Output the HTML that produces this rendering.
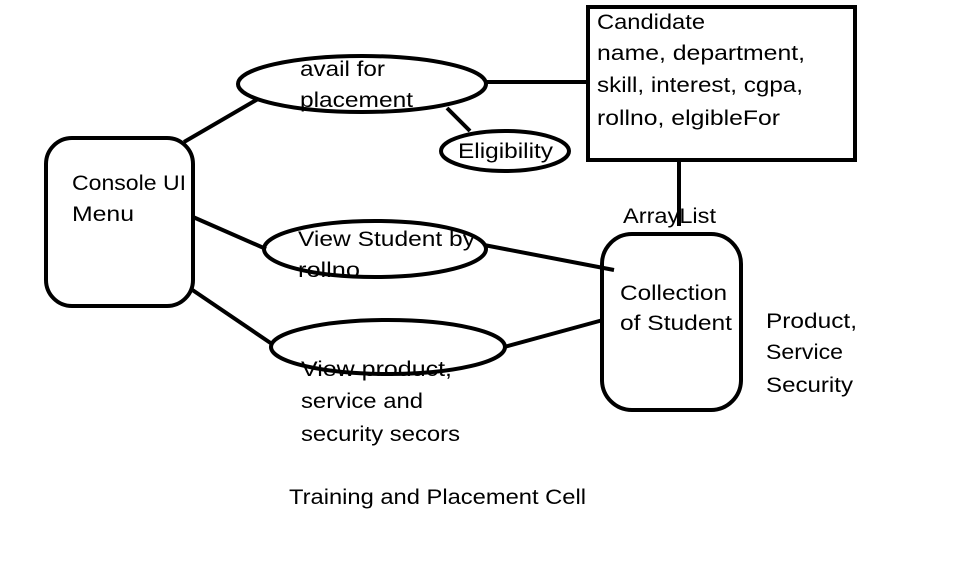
<!DOCTYPE html>
<html><head><style>
html,body{margin:0;padding:0;background:#fff;}
svg{display:block;}
text{font-family:"Liberation Sans",sans-serif;font-size:21px;fill:#000;}
</style></head><body>
<svg width="963" height="576" viewBox="0 0 963 576" xmlns="http://www.w3.org/2000/svg">
<g stroke="#000" stroke-width="4" fill="none">
<rect x="46" y="138" width="147" height="168" rx="26"/>
<ellipse cx="362" cy="84" rx="124" ry="28"/>
<ellipse cx="505" cy="151" rx="64" ry="20"/>
<rect x="588" y="7" width="267" height="153"/>
<ellipse cx="375" cy="249" rx="111" ry="28"/>
<ellipse cx="388" cy="347" rx="117" ry="27"/>
<rect x="602" y="234" width="139" height="176" rx="30"/>
<line x1="184" y1="142" x2="258" y2="99"/>
<line x1="486" y1="82" x2="589" y2="82"/>
<line x1="447" y1="108" x2="470" y2="131"/>
<line x1="679" y1="160" x2="679" y2="226"/>
<line x1="193" y1="217" x2="266" y2="249"/>
<line x1="484" y1="245" x2="614" y2="270"/>
<line x1="191" y1="289" x2="272" y2="344"/>
<line x1="504" y1="347" x2="603" y2="320"/>
</g>
<g lengthAdjust="spacingAndGlyphs">
<text x="300" y="76" textLength="85" lengthAdjust="spacingAndGlyphs">avail for</text>
<text x="300" y="107" textLength="113" lengthAdjust="spacingAndGlyphs">placement</text>
<text x="458" y="158" textLength="95" lengthAdjust="spacingAndGlyphs">Eligibility</text>
<text x="597" y="29" textLength="108" lengthAdjust="spacingAndGlyphs">Candidate</text>
<text x="597" y="60" textLength="208" lengthAdjust="spacingAndGlyphs">name, department,</text>
<text x="597" y="92" textLength="206" lengthAdjust="spacingAndGlyphs">skill, interest, cgpa,</text>
<text x="597" y="125" textLength="183" lengthAdjust="spacingAndGlyphs">rollno, elgibleFor</text>
<text x="72" y="190" textLength="114" lengthAdjust="spacingAndGlyphs">Console UI</text>
<text x="72" y="221" textLength="62" lengthAdjust="spacingAndGlyphs">Menu</text>
<text x="623" y="223" textLength="93" lengthAdjust="spacingAndGlyphs">ArrayList</text>
<text x="298" y="246" textLength="177" lengthAdjust="spacingAndGlyphs">View Student by</text>
<text x="298" y="277" textLength="62" lengthAdjust="spacingAndGlyphs">rollno</text>
<text x="620" y="300" textLength="107" lengthAdjust="spacingAndGlyphs">Collection</text>
<text x="620" y="330" textLength="112" lengthAdjust="spacingAndGlyphs">of Student</text>
<text x="766" y="328" textLength="91" lengthAdjust="spacingAndGlyphs">Product,</text>
<text x="766" y="359" textLength="77" lengthAdjust="spacingAndGlyphs">Service</text>
<text x="766" y="392" textLength="87" lengthAdjust="spacingAndGlyphs">Security</text>
<text x="301" y="376" textLength="151" lengthAdjust="spacingAndGlyphs">View product,</text>
<text x="301" y="408" textLength="122" lengthAdjust="spacingAndGlyphs">service and</text>
<text x="301" y="441" textLength="159" lengthAdjust="spacingAndGlyphs">security secors</text>
<text x="289" y="504" textLength="297" lengthAdjust="spacingAndGlyphs">Training and Placement Cell</text>
</g>
</svg>
</body></html>
